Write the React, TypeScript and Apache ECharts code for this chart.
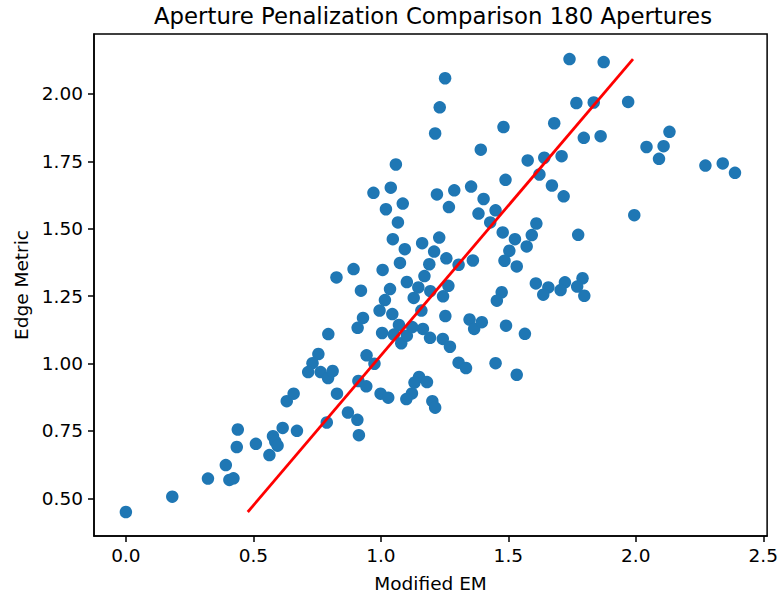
import React, { useEffect, useRef } from "react";
import * as echarts from "echarts";

const modifiedEM = [
  0.0, 0.182, 0.322, 0.392, 0.406, 0.422, 0.439, 0.435, 0.51, 0.563, 0.577, 0.586, 0.595, 0.615, 0.631, 0.658,
  0.671, 0.788, 0.871, 0.908, 0.914, 0.828, 0.999, 1.029, 1.122, 1.1, 1.202, 1.213, 0.912, 0.943, 1.15, 1.132,
  1.181, 0.755, 0.732, 0.715, 0.764, 0.793, 0.811, 0.944, 0.975, 1.305, 1.334, 0.794, 1.08, 1.243, 1.271, 1.005,
  1.051, 1.102, 1.165, 1.193, 1.348, 1.366, 0.93, 0.909, 1.071, 1.123, 0.995, 1.045, 1.159, 1.253, 0.922, 1.036,
  1.016, 1.129, 1.102, 1.147, 1.194, 1.265, 1.244, 0.826, 0.893, 1.007, 1.171, 1.075, 1.19, 1.305, 1.361, 1.257,
  1.209, 1.094, 1.162, 1.229, 1.047, 1.067, 1.252, 1.231, 1.213, 1.059, 0.971, 1.039, 1.086, 1.02, 1.22, 1.288,
  1.354, 1.267, 1.392, 1.74, 1.874, 1.767, 1.835, 1.97, 1.68, 1.481, 1.796, 1.862, 1.576, 1.641, 1.709, 1.622,
  1.489, 1.671, 1.717, 1.403, 1.45, 1.383, 1.429, 1.61, 1.994, 2.042, 2.109, 2.091, 2.132, 2.273, 2.341, 2.389,
  1.478, 1.526, 1.592, 1.774, 1.504, 1.572, 1.485, 1.533, 1.608, 1.657, 1.637, 1.722, 1.705, 1.791, 1.77, 1.798,
  1.474, 1.455, 1.396, 1.491, 1.565, 1.45, 1.533,
];

const edgeMetric = [
  0.449, 0.506, 0.573, 0.623, 0.568, 0.574, 0.755, 0.69, 0.702, 0.66, 0.73, 0.71, 0.695, 0.761, 0.86, 0.888,
  0.75, 0.781, 0.818, 0.791, 0.734, 0.888, 0.888, 0.873, 0.889, 0.868, 0.86, 0.836, 0.935, 0.915, 0.95, 0.929,
  0.931, 1.035, 1.001, 0.968, 0.968, 0.946, 0.972, 1.03, 0.999, 1.003, 0.983, 1.109, 1.075, 1.091, 1.062, 1.113,
  1.107, 1.103, 1.128, 1.095, 1.163, 1.128, 1.169, 1.132, 1.143, 1.135, 1.196, 1.183, 1.196, 1.176, 1.27, 1.276,
  1.235, 1.243, 1.302, 1.282, 1.268, 1.288, 1.249, 1.319, 1.35, 1.347, 1.324, 1.373, 1.368, 1.366, 1.382, 1.39,
  1.415, 1.424, 1.446, 1.467, 1.461, 1.523, 2.058, 1.95, 1.853, 1.738, 1.633, 1.652, 1.593, 1.572, 1.627, 1.642,
  1.656, 1.58, 1.793, 2.129, 2.118, 1.966, 1.968, 1.97, 1.891, 1.877, 1.837, 1.843, 1.753, 1.763, 1.769, 1.701,
  1.681, 1.66, 1.62, 1.61, 1.568, 1.556, 1.523, 1.519, 1.55, 1.803, 1.806, 1.759, 1.859, 1.734, 1.742, 1.707,
  1.486, 1.461, 1.476, 1.477, 1.418, 1.434, 1.381, 1.36, 1.297, 1.282, 1.255, 1.301, 1.272, 1.316, 1.285, 1.251,
  1.264, 1.233, 1.153, 1.14, 1.11, 1.001, 0.958,
];

const fitX = [0.478, 1.989];
const fitY = [0.449, 2.129];

const xTicks = [0, 0.5, 1, 1.5, 2, 2.5];
const yTicks = [0.5, 0.75, 1, 1.25, 1.5, 1.75, 2];

const FONT = "DejaVu Sans";

export default function App() {
  const ref = useRef<HTMLDivElement>(null);
  useEffect(() => {
    const chart = echarts.init(ref.current!, null, { renderer: "svg" });
    const scatterData = modifiedEM.map((x, i) => [x, edgeMetric[i]]);
    const lineData = fitX.map((x, i) => [x, fitY[i]]);
    chart.setOption({
      animation: false,
      backgroundColor: "#ffffff",
      textStyle: { fontFamily: FONT },
      grid: {
        left: 94,
        right: 9,
        top: 34,
        bottom: 60,
        show: true,
        borderColor: "#000000",
        borderWidth: 1.5,
        backgroundColor: "transparent",
      },
      graphic: [
        {
          type: "text",
          x: 433,
          y: 16,
          style: {
            text: "Aperture Penalization Comparison 180 Apertures",
            font: `22.8px '${FONT}'`,
            fill: "#000000",
            align: "center",
            verticalAlign: "middle",
          },
        },
      ],
      xAxis: {
        type: "value",
        min: -0.125,
        max: 2.515,
        name: "Modified EM",
        nameLocation: "middle",
        nameGap: 38,
        nameTextStyle: { fontFamily: FONT, fontSize: 18.5, color: "#000" },
        splitLine: { show: false },
        axisLine: { show: true, onZero: false, lineStyle: { color: "#000", width: 1.5 } },
        axisTick: {
          show: true,
          inside: false,
          length: 6,
          lineStyle: { color: "#000", width: 1.5 },
          customValues: xTicks,
        },
        axisLabel: {
          show: true,
          margin: 10,
          fontFamily: FONT,
          fontSize: 18.5,
          color: "#000",
          customValues: xTicks,
          formatter: (v: number) => v.toFixed(1),
        },
      },
      yAxis: {
        type: "value",
        min: 0.36,
        max: 2.222,
        name: "Edge Metric",
        nameLocation: "middle",
        nameGap: 63,
        nameRotate: 90,
        nameTextStyle: { fontFamily: FONT, fontSize: 18.5, color: "#000" },
        splitLine: { show: false },
        axisLine: { show: true, onZero: false, lineStyle: { color: "#000", width: 1.5 } },
        axisTick: {
          show: true,
          inside: false,
          length: 6,
          lineStyle: { color: "#000", width: 1.5 },
          customValues: yTicks,
        },
        axisLabel: {
          show: true,
          margin: 11,
          fontFamily: FONT,
          fontSize: 18.5,
          color: "#000",
          customValues: yTicks,
          formatter: (v: number) => v.toFixed(2),
        },
      },
      series: [
        {
          type: "scatter",
          data: scatterData,
          symbol: "circle",
          symbolSize: 12.5,
          itemStyle: { color: "#1f77b4", opacity: 1 },
          z: 2,
        },
        {
          type: "line",
          data: lineData,
          showSymbol: false,
          symbol: "none",
          lineStyle: { color: "#ff0000", width: 2.8 },
          z: 3,
        },
      ],
    });
    return () => chart.dispose();
  }, []);
  return (
    <div
      ref={ref}
      style={{ position: "fixed", left: 0, top: 0, width: 781, height: 598 }}
    />
  );
}
